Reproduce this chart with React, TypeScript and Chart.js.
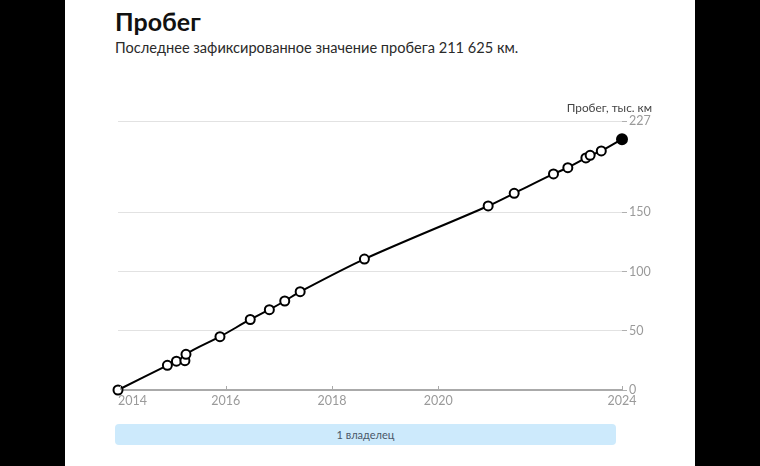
import React, { useEffect, useRef } from "react";
import { Chart, registerables } from "chart.js";

Chart.register(...registerables);

// Decimal years of each recorded reading
const dates = [2013.97, 2014.9, 2015.07, 2015.23, 2015.25, 2015.89, 2016.46, 2016.82, 2017.11, 2017.4, 2018.61, 2020.94, 2021.43, 2022.17, 2022.44, 2022.78, 2022.86, 2023.07, 2023.46];
// Mileage, thousand km
const mileage = [0, 20.8, 24.3, 24.7, 30.1, 45.0, 59.5, 67.8, 75.1, 83.0, 110.5, 155.3, 166.0, 182.3, 187.6, 195.8, 198.0, 201.7, 211.625];

const yTicks = [0, 50, 100, 150, 227];
const xTickValues = [2014, 2016, 2018, 2020, 2023.46];
const xTickLabels = ["2014", "2016", "2018", "2020", "2024"];

const TITLE = "Пробег";
const SUBTITLE = "Последнее зафиксированное значение пробега 211 625 км.";
const Y_TITLE = "Пробег, тыс. км";
const OWNERS = "1 владелец";

const FONT = "Lato, 'Open Sans', sans-serif";

const xLabelsPlugin = {
  id: "xLabels",
  afterDraw(chart: any) {
    const ctx = chart.ctx;
    const xs = chart.scales.x;
    const area = chart.chartArea;
    ctx.save();
    ctx.font = `12.5px ${FONT}`;
    ctx.fillStyle = "#9a9a9a";
    ctx.strokeStyle = "#aaaaaa";
    ctx.lineWidth = 1;
    ctx.textBaseline = "alphabetic";
    xTickValues.forEach((v, i) => {
      const px = xs.getPixelForValue(v);
      ctx.beginPath();
      ctx.moveTo(Math.round(px) + 0.5, area.bottom - 4);
      ctx.lineTo(Math.round(px) + 0.5, area.bottom);
      ctx.stroke();
      ctx.textAlign = i === 0 ? "left" : "center";
      const lx = i === 0 ? area.left : px;
      ctx.fillText(xTickLabels[i], lx, area.bottom + 15);
    });
    ctx.restore();
  },
};

function ChartCanvas() {
  const ref = useRef<HTMLCanvasElement | null>(null);
  useEffect(() => {
    if (!ref.current) return;
    const last = dates.length - 1;
    const chart = new Chart(ref.current, {
      type: "line",
      data: {
        datasets: [
          {
            data: dates.map((d, i) => ({ x: d, y: mileage[i] })),
            borderColor: "#000",
            borderWidth: 2,
            tension: 0.3,
            pointRadius: (c: any) => (c.dataIndex === last ? 5 : 4.5),
            pointHoverRadius: 5,
            pointBorderWidth: 2,
            pointBorderColor: "#000",
            pointBackgroundColor: (c: any) => (c.dataIndex === last ? "#000" : "#fff"),
            clip: false as any,
          },
        ],
      },
      options: {
        animation: false,
        responsive: false,
        devicePixelRatio: 1,
        layout: { padding: { left: 53, top: 26, right: 0, bottom: 0 }, autoPadding: false },
        plugins: { legend: { display: false }, tooltip: { enabled: false }, title: { display: false } },
        scales: {
          x: {
            type: "linear",
            min: dates[0],
            max: dates[last],
            afterBuildTicks: (s: any) => {
              s.ticks = xTickValues.map((v) => ({ value: v }));
            },
            afterFit: (s: any) => {
              s.height = 25;
            },
            grid: { display: false },
            border: { display: true, color: "#aaaaaa", width: 2 },
            ticks: { display: false },
          },
          y: {
            position: "right",
            min: 0,
            max: 227,
            afterBuildTicks: (s: any) => {
              s.ticks = yTicks.map((v) => ({ value: v }));
            },
            afterFit: (s: any) => {
              s.width = 73;
            },
            grid: {
              color: (c: any) => (c.tick && c.tick.value === 0 ? "rgba(0,0,0,0)" : "#e2e2e2"),
              tickColor: "#b0b0b0",
              tickLength: 5,
              lineWidth: 1,
            },
            border: { display: false },
            ticks: {
              padding: 2,
              color: "#9a9a9a",
              font: { family: FONT, size: 12.5 },
              callback: (v: any) => String(v),
            },
          },
        },
      },
      plugins: [xLabelsPlugin],
    } as any);
    return () => chart.destroy();
  }, []);
  return <canvas ref={ref} width={630} height={320} style={{ display: "block" }} />;
}

export default function App() {
  useEffect(() => {
    document.body.style.margin = "0";
    document.body.style.background = "#000";
  }, []);
  return (
    <div style={{ position: "relative", width: 760, height: 466, background: "#000", overflow: "hidden", fontFamily: FONT }}>
      <div style={{ position: "absolute", left: 65, top: 0, width: 630, height: 466, background: "#fff" }} />
      <div style={{ position: "absolute", left: 115, top: 9, fontSize: 25, lineHeight: "25px", fontWeight: 700, color: "#111", whiteSpace: "nowrap" }}>
        {TITLE}
      </div>
      <div style={{ position: "absolute", left: 115, top: 41, fontSize: 14.6, lineHeight: "14.6px", color: "#2a2a2a", whiteSpace: "nowrap" }}>
        {SUBTITLE}
      </div>
      <div style={{ position: "absolute", left: 65, top: 95 }}>
        <ChartCanvas />
      </div>
      <div style={{ position: "absolute", right: 108, top: 101.5, fontSize: 11.8, lineHeight: "11.8px", color: "#444", whiteSpace: "nowrap" }}>
        {Y_TITLE}
      </div>
      <div
        style={{
          position: "absolute",
          left: 115,
          top: 424,
          width: 501,
          height: 21,
          background: "#cdeafc",
          borderRadius: 4,
          textAlign: "center",
          fontSize: 11,
          lineHeight: "21px",
          color: "#4a5868",
        }}
      >
        {OWNERS}
      </div>
    </div>
  );
}
